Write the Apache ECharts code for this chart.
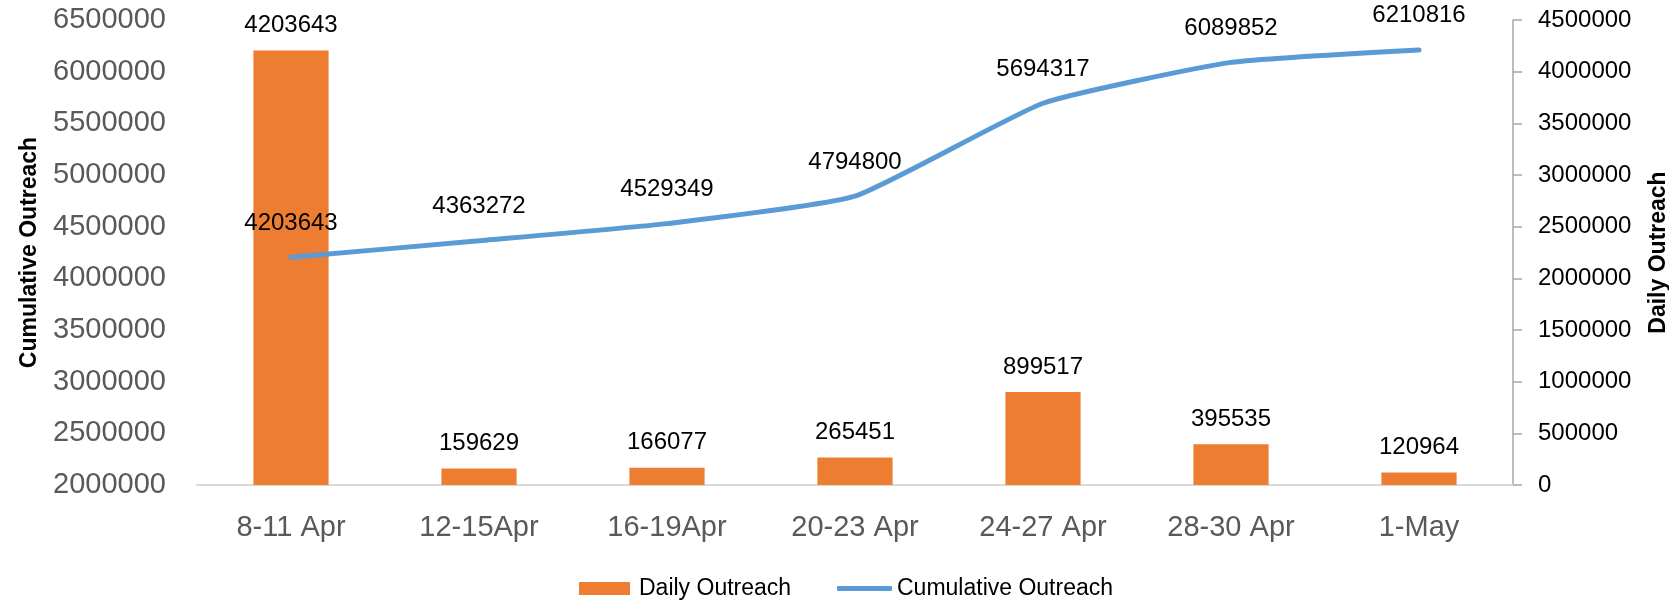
<!DOCTYPE html>
<html>
<head>
<meta charset="utf-8">
<script src="https://cdn.jsdelivr.net/npm/echarts@6/dist/echarts.min.js"></script>
<style>html,body{margin:0;padding:0;background:#fff}#c{width:1669px;height:601px}</style>
</head>
<body>
<div id="c"></div>
<script>
const categories = ['8-11 Apr', '12-15Apr', '16-19Apr', '20-23 Apr', '24-27 Apr', '28-30 Apr', '1-May'];
const dailyOutreach = [4203643, 159629, 166077, 265451, 899517, 395535, 120964];
const cumulativeOutreach = [4203643, 4363272, 4529349, 4794800, 5694317, 6089852, 6210816];
const leftTicks = { min: 2000000, max: 6500000, interval: 500000 };
const rightTicks = { min: 0, max: 4500000, interval: 500000 };

const FONT = '"Liberation Sans", Arial, sans-serif';
const plain = v => String(v);
const chart = echarts.init(document.getElementById('c'), null, { renderer: 'canvas' });
chart.setOption({
  animation: false,
  textStyle: { fontFamily: FONT },
  grid: { left: 197, right: 156, top: 20, bottom: 116, containLabel: false, outerBoundsMode: 'none' },
  legend: [
    {
      left: 574, top: 572,
      itemWidth: 51, itemHeight: 13, itemGap: 31,
      textStyle: { fontSize: 23, color: '#000', fontFamily: FONT, padding: [0, 0, 0, 4] },
      data: [{ name: 'Daily Outreach', icon: 'rect' }]
    },
    {
      left: 832, top: 572,
      itemWidth: 55, itemHeight: 5, itemGap: 31,
      textStyle: { fontSize: 23, color: '#000', fontFamily: FONT },
      data: [{ name: 'Cumulative Outreach', icon: 'roundRect' }]
    }
  ],
  xAxis: {
    type: 'category',
    data: categories,
    axisLine: { lineStyle: { color: '#d9d9d9', width: 2 } },
    axisTick: { show: false },
    axisLabel: { fontSize: 29, color: '#595959', margin: 28, fontFamily: FONT }
  },
  yAxis: [
    {
      type: 'value', position: 'left',
      min: leftTicks.min, max: leftTicks.max, interval: leftTicks.interval,
      name: 'Cumulative Outreach', nameLocation: 'middle', nameRotate: 90, nameGap: 156,
      nameTextStyle: { fontSize: 23, fontWeight: 'bold', color: '#000', fontFamily: FONT },
      axisLine: { show: false }, axisTick: { show: false }, splitLine: { show: false },
      axisLabel: { fontSize: 29, color: '#595959', margin: 31, fontFamily: FONT, formatter: plain }
    },
    {
      type: 'value', position: 'right',
      min: rightTicks.min, max: rightTicks.max, interval: rightTicks.interval,
      name: 'Daily Outreach', nameLocation: 'middle', nameRotate: 90, nameGap: 134,
      nameTextStyle: { fontSize: 23, fontWeight: 'bold', color: '#000', fontFamily: FONT },
      axisLine: { show: true, lineStyle: { color: '#a6a6a6', width: 1.5 } },
      axisTick: { show: true, inside: false, length: 9, lineStyle: { color: '#a6a6a6', width: 1.5 } },
      splitLine: { show: false },
      axisLabel: { fontSize: 24, color: '#000', margin: 25, fontFamily: FONT, formatter: plain }
    }
  ],
  series: [
    {
      name: 'Daily Outreach', type: 'bar', yAxisIndex: 1,
      data: dailyOutreach, barWidth: '40%',
      itemStyle: { color: '#ED7D31' },
      label: { show: true, position: 'top', distance: 13, fontSize: 24, color: '#000', fontFamily: FONT }
    },
    {
      name: 'Cumulative Outreach', type: 'line', yAxisIndex: 0,
      data: cumulativeOutreach, smooth: 0.15,
      symbol: 'circle', symbolSize: 0.1, showSymbol: true,
      lineStyle: { color: '#5B9BD5', width: 5, cap: 'round' },
      itemStyle: { color: '#5B9BD5' },
      label: { show: true, position: 'top', distance: 22, fontSize: 24, color: '#000', fontFamily: FONT }
    }
  ]
});
</script>
</body>
</html>
